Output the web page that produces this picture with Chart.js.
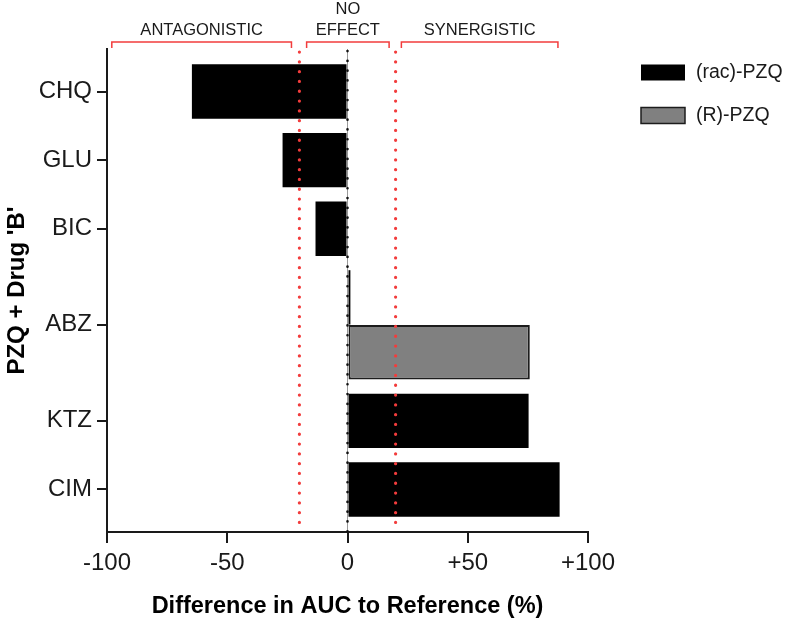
<!DOCTYPE html>
<html>
<head>
<meta charset="utf-8">
<script src="https://cdn.jsdelivr.net/npm/chart.js@4.4.1/dist/chart.umd.min.js"></script>
<style>
  html, body { margin: 0; padding: 0; background: #fff; }
</style>
</head>
<body>
<canvas id="chart" width="800" height="625"></canvas>
<script>
// drug combinations, top to bottom
const drugs = ['CHQ', 'GLU', 'BIC', 'ABZ', 'KTZ', 'CIM'];
// difference in AUC to reference (%), null = not tested
const racPZQ = [-64.7, -27, -13.3, 1.2, 75.3, 88.2];
const rPZQ = [null, null, null, 75.8, null, null];
const xTicks = [-100, -50, 0, 50, 100];
const xTickLabels = ['-100', '-50', '0', '+50', '+100'];
// effect zones marked above the plot
const zoneNames = [['ANTAGONISTIC'], ['NO', 'EFFECT'], ['SYNERGISTIC']];
const zoneFrom = [-98, -17, 22.4];
const zoneTo = [-23.3, 17.3, 87.5];
const cutoffs = [-20, 20];

const TEXT = '#1a1a1a';
const RED = '#f23c3c';
const FONT = '"Liberation Sans", Arial, sans-serif';

Chart.defaults.font.family = FONT;
Chart.defaults.color = TEXT;

// row positions: one slot per drug, ABZ gets two touching bars
const barFrac = 0.8;
const rowCenters = [];
const racPos = [];
const rPos = [];
let cursor = 0;
drugs.forEach((d, i) => {
    racPos.push(cursor);
    if (rPZQ[i] === null) {
        rowCenters.push(cursor);
        cursor += 1;
    } else {
        rPos.push(cursor + barFrac);
        rowCenters.push(cursor + barFrac / 2);
        cursor += 1 + barFrac;
    }
});
const edgePad = 0.62;

const racData = drugs.map((d, i) => ({ x: racPZQ[i], y: racPos[i] }));
const rData = drugs
    .map((d, i) => rPZQ[i] === null ? null : ({ x: rPZQ[i] }))
    .filter(p => p !== null)
    .map((p, k) => ({ x: p.x, y: rPos[k] }));

const overlayPlugin = {
    id: 'overlay',
    afterDatasetsDraw(chart) {
        const { ctx, chartArea: area, scales: { x } } = chart;
        ctx.save();

        // zero line
        const x0 = x.getPixelForValue(0);
        ctx.strokeStyle = 'rgba(0,0,0,0.4)';
        ctx.lineWidth = 1;
        ctx.beginPath();
        ctx.moveTo(x0, area.top);
        ctx.lineTo(x0, area.bottom);
        ctx.stroke();
        ctx.setLineDash([0.1, 9.7]);
        ctx.lineCap = 'round';
        ctx.lineWidth = 2.6;
        ctx.strokeStyle = '#111';
        ctx.beginPath();
        ctx.moveTo(x0, area.top + 2);
        ctx.lineTo(x0, area.bottom);
        ctx.stroke();

        // cutoff lines
        ctx.strokeStyle = RED;
        ctx.lineWidth = 3.2;
        cutoffs.forEach(c => {
            const px = x.getPixelForValue(c);
            ctx.beginPath();
            ctx.moveTo(px, area.top + 3);
            ctx.lineTo(px, area.bottom);
            ctx.stroke();
        });
        ctx.setLineDash([]);
        ctx.lineCap = 'butt';

        // zone brackets and names
        const by = area.top - 7;
        ctx.lineWidth = 1.5;
        ctx.font = '16.5px ' + FONT;
        ctx.textAlign = 'center';
        ctx.textBaseline = 'alphabetic';
        zoneNames.forEach((lines, i) => {
            const a = x.getPixelForValue(zoneFrom[i]);
            const b = x.getPixelForValue(zoneTo[i]);
            ctx.strokeStyle = RED;
            ctx.beginPath();
            ctx.moveTo(a, by + 6);
            ctx.lineTo(a, by);
            ctx.lineTo(b, by);
            ctx.lineTo(b, by + 6);
            ctx.stroke();
            ctx.fillStyle = TEXT;
            const cx = (a + b) / 2;
            lines.forEach((t, k) => {
                ctx.fillText(t, cx, by - 7 - (lines.length - 1 - k) * 21);
            });
        });
        ctx.restore();
    }
};

const legendPlugin = {
    id: 'sideLegend',
    afterDraw(chart) {
        const { ctx } = chart;
        ctx.save();
        ctx.font = '19.5px ' + FONT;
        ctx.textBaseline = 'middle';
        ctx.textAlign = 'left';
        chart.data.datasets.forEach((ds, i) => {
            const cy = 72.5 + i * 43;
            ctx.fillStyle = ds.backgroundColor;
            ctx.fillRect(641, cy - 8, 44, 16);
            if (ds.borderWidth) {
                ctx.strokeStyle = ds.borderColor;
                ctx.lineWidth = 1.5;
                ctx.strokeRect(641, cy - 8, 44, 16);
            }
            ctx.fillStyle = TEXT;
            ctx.fillText(ds.label, 696, cy);
        });
        ctx.restore();
    }
};

new Chart(document.getElementById('chart'), {
    type: 'bar',
    data: {
        datasets: [{
            label: '(rac)-PZQ',
            data: racData,
            backgroundColor: '#000000',
            borderWidth: 0
        }, {
            label: '(R)-PZQ',
            data: rData,
            backgroundColor: '#808080',
            borderColor: '#1c1c1c',
            borderWidth: 2,
            borderSkipped: false
        }]
    },
    options: {
        indexAxis: 'y',
        responsive: false,
        animation: false,
        grouped: false,
        categoryPercentage: 1,
        barPercentage: 0.99,
        layout: { padding: { top: 49, left: 0, right: 212, bottom: 0 } },
        plugins: {
            legend: { display: false },
            tooltip: { enabled: false }
        },
        scales: {
            x: {
                type: 'linear',
                min: -100,
                max: 100,
                afterBuildTicks: scale => { scale.ticks = xTicks.map(v => ({ value: v })); },
                afterFit: scale => { scale.height = 93; },
                ticks: {
                    font: { size: 24 },
                    color: TEXT,
                    padding: 6,
                    maxRotation: 0,
                    callback: v => xTickLabels[xTicks.indexOf(v)]
                },
                grid: { drawOnChartArea: false, drawTicks: true, tickLength: 11, color: TEXT, lineWidth: 2 },
                border: { color: TEXT, width: 2 },
                title: {
                    display: true,
                    text: 'Difference in AUC to Reference (%)',
                    font: { size: 23.5, weight: 'bold' },
                    color: '#000',
                    padding: { top: 0, bottom: 4 }
                }
            },
            y: {
                type: 'linear',
                reverse: true,
                offset: false,
                min: -edgePad,
                max: racPos[racPos.length - 1] + edgePad,
                afterBuildTicks: scale => { scale.ticks = rowCenters.map(v => ({ value: v })); },
                afterFit: scale => { scale.width = 107; },
                ticks: {
                    font: { size: 24 },
                    color: TEXT,
                    padding: 5,
                    callback: (v, i) => drugs[i]
                },
                grid: { offset: false, drawOnChartArea: false, drawTicks: true, tickLength: 10, color: TEXT, lineWidth: 2 },
                border: { color: TEXT, width: 2 },
                title: {
                    display: true,
                    text: "PZQ + Drug 'B'",
                    font: { size: 24, weight: 'bold' },
                    color: '#000',
                    padding: { top: 3, bottom: 0 }
                }
            }
        }
    },
    plugins: [overlayPlugin, legendPlugin]
});
</script>
</body>
</html>
